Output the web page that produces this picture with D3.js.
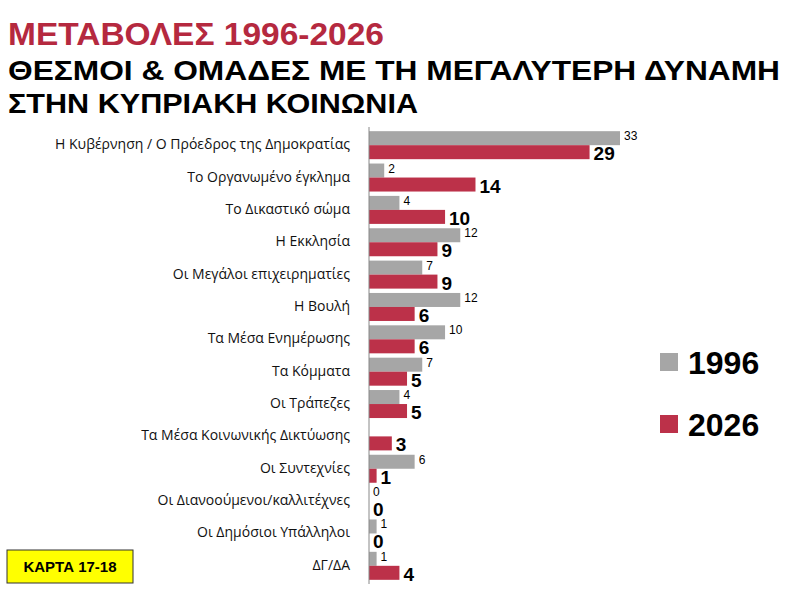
<!DOCTYPE html><html><head><meta charset="utf-8"><script src="https://cdn.jsdelivr.net/npm/d3@7"></script>
<style>body{margin:0;background:#fff}</style></head><body><svg id="c" width="800" height="600"></svg>
<script>
const categories=["Η Κυβέρνηση / Ο Πρόεδρος της Δημοκρατίας","Το Οργανωμένο έγκλημα","Το Δικαστικό σώμα","Η Εκκλησία","Οι Μεγάλοι επιχειρηματίες","Η Βουλή","Τα Μέσα Ενημέρωσης","Τα Κόμματα","Οι Τράπεζες","Τα Μέσα Κοινωνικής Δικτύωσης","Οι Συντεχνίες","Οι Διανοούμενοι/καλλιτέχνες","Οι Δημόσιοι Υπάλληλοι","ΔΓ/ΔΑ"];
const values1996=[33,2,4,12,7,12,10,7,4,null,6,0,1,1];
const values2026=[29,14,10,9,9,6,6,5,5,3,1,0,0,4];
const svg=d3.select("#c");
const F="'Liberation Sans',Arial,sans-serif";
const F2="'Open Sans','Liberation Sans',sans-serif";
svg.append("text").attr("x",8).attr("y",45).attr("fill","#b5293f").attr("font-family",F).attr("font-weight","bold").attr("font-size",31).attr("textLength",376).attr("lengthAdjust","spacingAndGlyphs").text("ΜΕΤΑΒΟΛΕΣ 1996-2026");
svg.append("text").attr("x",8).attr("y",80).attr("font-family",F).attr("font-weight","bold").attr("font-size",28).attr("textLength",772).attr("lengthAdjust","spacingAndGlyphs").text("ΘΕΣΜΟΙ & ΟΜΑΔΕΣ ΜΕ ΤΗ ΜΕΓΑΛΥΤΕΡΗ ΔΥΝΑΜΗ");
svg.append("text").attr("x",8).attr("y",113).attr("font-family",F).attr("font-weight","bold").attr("font-size",28).attr("textLength",410).attr("lengthAdjust","spacingAndGlyphs").text("ΣΤΗΝ ΚΥΠΡΙΑΚΗ ΚΟΙΝΩΝΙΑ");
const x=d3.scaleLinear().domain([0,33]).range([369,620]);
const y=d3.scaleBand().domain(categories).range([129,582]);
const bh=14;
categories.forEach((c,i)=>{
 const yc=y(c)+y.bandwidth()/2;
 svg.append("text").attr("x",350).attr("y",yc+4).attr("text-anchor","end").attr("font-family",F2).attr("font-size",14).attr("fill","#111").text(c);
 const a=values1996[i];
 if(a!==null){
  svg.append("rect").attr("x",x(0)).attr("y",yc-bh).attr("width",x(a)-x(0)).attr("height",bh).attr("fill","#a6a6a6");
  svg.append("text").attr("x",x(a)+4).attr("y",yc-5).attr("font-family",F).attr("font-size",12).text(a);
 }
 const b=values2026[i];
 svg.append("rect").attr("x",x(0)).attr("y",yc).attr("width",x(b)-x(0)).attr("height",bh).attr("fill","#bc3149");
 svg.append("text").attr("x",x(b)+4).attr("y",yc+15).attr("font-family",F).attr("font-weight","bold").attr("font-size",19).text(b);
});
svg.append("line").attr("x1",369).attr("x2",369).attr("y1",127).attr("y2",584).attr("stroke","#888");
[["1996","#a6a6a6",353],["2026","#bc3149",415]].forEach(([t,col,yy])=>{
 svg.append("rect").attr("x",660).attr("y",yy).attr("width",18).attr("height",18).attr("fill",col);
 svg.append("text").attr("x",688).attr("y",yy+21).attr("font-family",F).attr("font-weight","bold").attr("font-size",32).text(t);
});
svg.append("rect").attr("x",7).attr("y",550).attr("width",126).attr("height",33).attr("fill","#ffff00").attr("stroke","#333");
svg.append("text").attr("x",70).attr("y",572).attr("text-anchor","middle").attr("font-family",F).attr("font-weight","bold").attr("font-size",15).text("ΚΑΡΤΑ 17-18");
</script></body></html>
